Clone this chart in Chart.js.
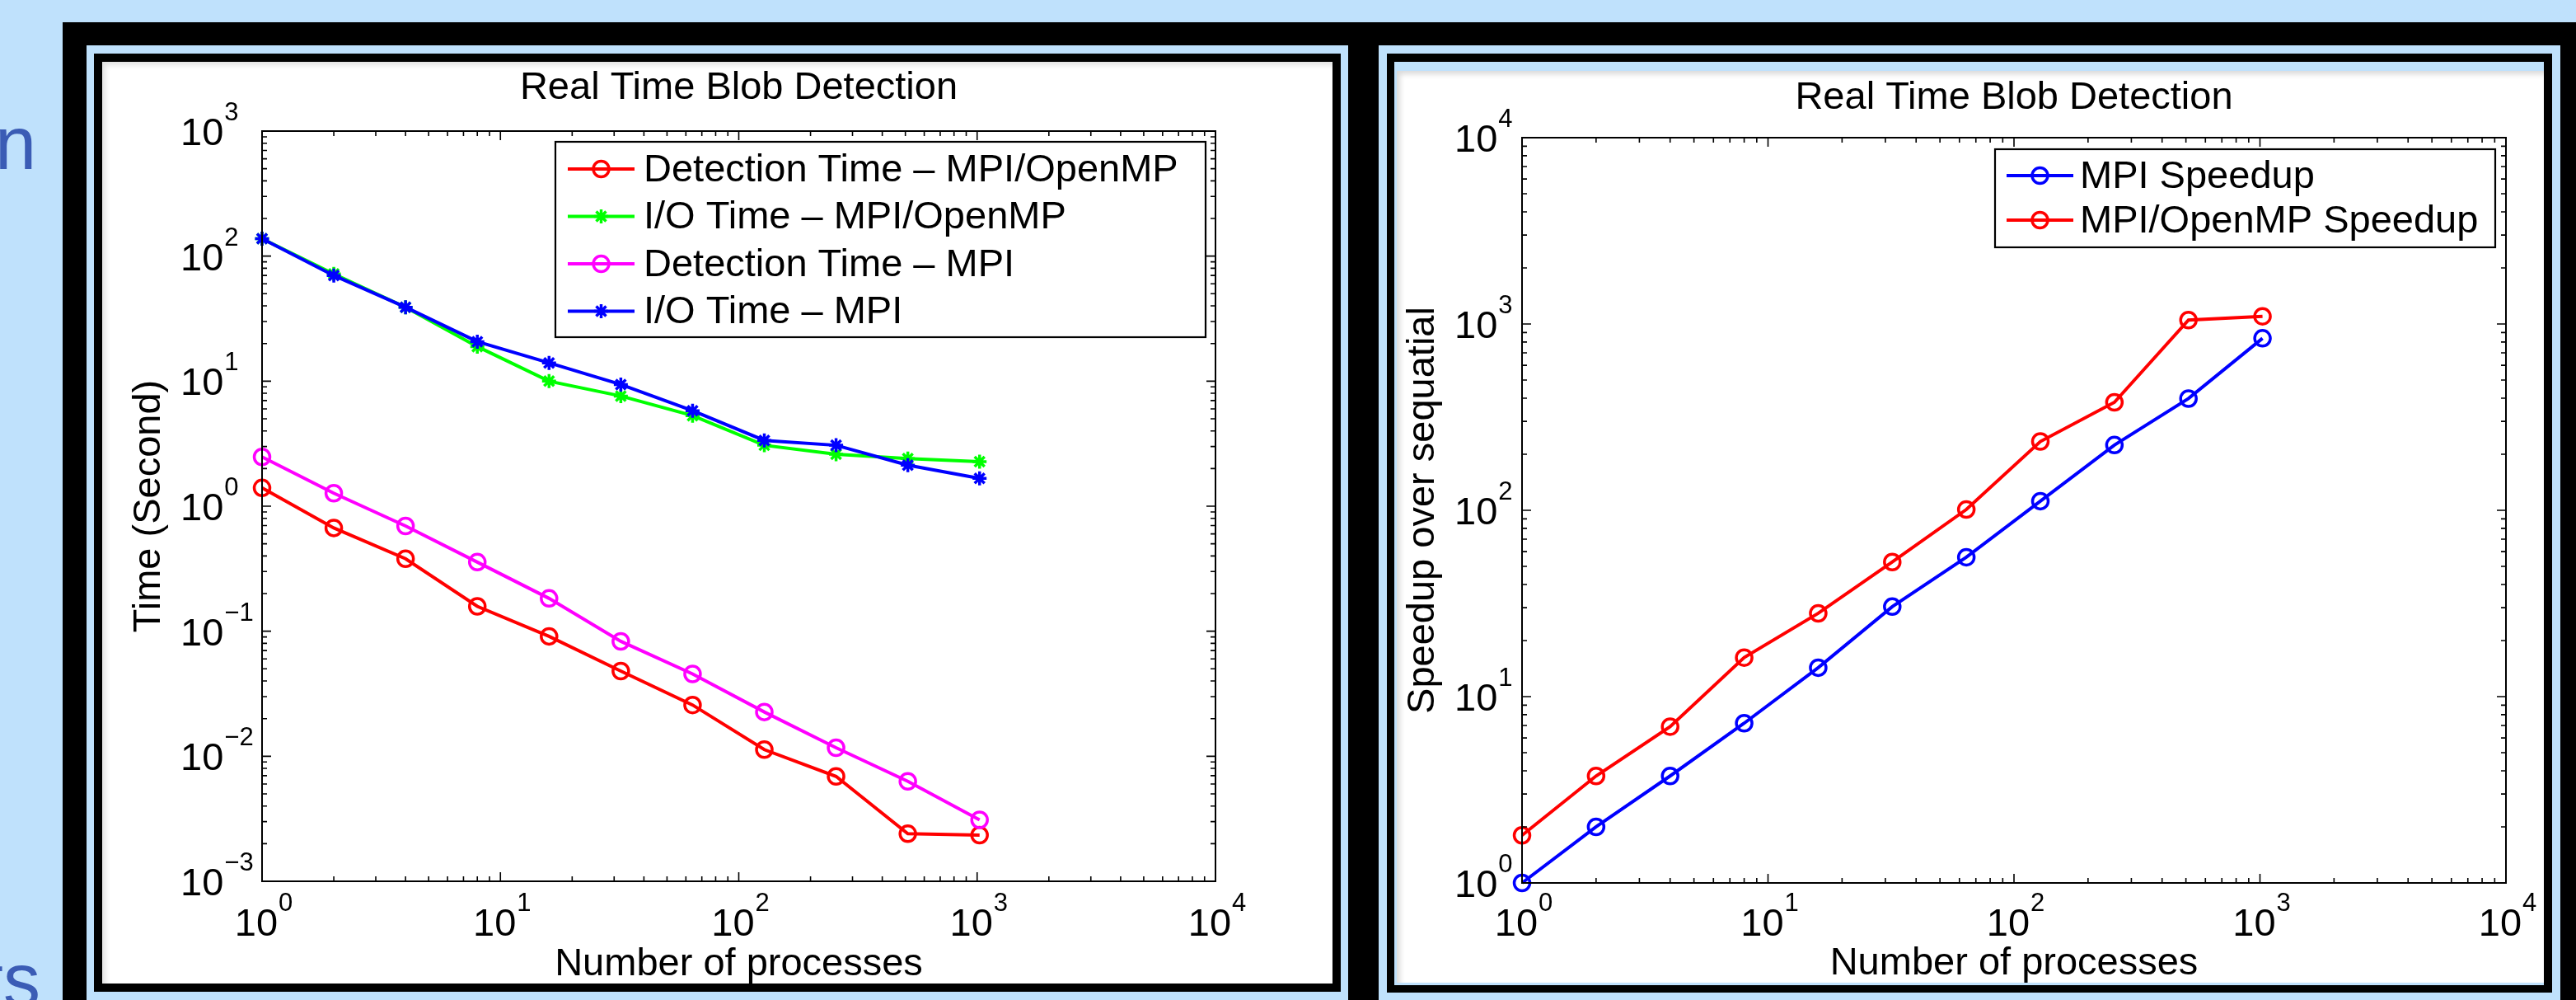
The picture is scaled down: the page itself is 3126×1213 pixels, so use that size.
<!DOCTYPE html>
<html><head><meta charset="utf-8">
<script src="https://cdn.jsdelivr.net/npm/chart.js@4.4.0/dist/chart.umd.min.js"></script>
<style>
html,body{margin:0;padding:0;}
body{width:3126px;height:1213px;overflow:hidden;background:#BFE1FC;position:relative;font-family:"Liberation Sans",Arial,sans-serif;}
.abs{position:absolute;}
.frag{position:absolute;color:#3B5CB5;font-size:90px;line-height:90px;white-space:nowrap;transform:translateX(-100%);}
</style></head>
<body>
<div class="frag" style="left:44px;top:129px;">n</div>
<div class="frag" style="left:49px;top:1144px;">ts</div>
<div class="abs" style="left:76px;top:27px;width:3100px;height:1250px;background:#000"></div>
<div class="abs" style="left:105px;top:55px;width:1531px;height:1250px;background:#BFE1FC"></div>
<div class="abs" style="left:114px;top:65px;width:1513px;height:1138px;background:#000"></div>
<div class="abs" style="left:124px;top:75px;width:1493px;height:1118px;background:#fff;box-shadow:inset 4px 4px 6px rgba(0,0,0,0.12)"></div>
<div class="abs" style="left:1673px;top:55px;width:1434px;height:1250px;background:#BFE1FC"></div>
<div class="abs" style="left:1683px;top:65px;width:1414px;height:1139px;background:#000"></div>
<div class="abs" style="left:1692px;top:75px;width:1395px;height:1120px;background:#BFE1FC"></div>
<div class="abs" style="left:1695px;top:86px;width:1392px;height:1106px;background:#fff;box-shadow:inset 4px 4px 6px rgba(0,0,0,0.15)"></div>
<canvas id="c1" class="abs" style="left:124px;top:75px" width="1493" height="1118"></canvas>
<canvas id="c2" class="abs" style="left:1695px;top:86px" width="1392" height="1106"></canvas>
<script>
// ---- data ----
const procs = [1, 2, 4, 8, 16, 32, 64, 128, 256, 512, 1024];
const detHybrid = [1.40, 0.67, 0.38, 0.158, 0.091, 0.048, 0.0257, 0.0113, 0.0069, 0.0024, 0.00234];
const ioHybrid = [138, 72, 39, 18.9, 10, 7.6, 5.3, 3.07, 2.6, 2.4, 2.27];
const detMPI = [2.48, 1.27, 0.695, 0.357, 0.183, 0.083, 0.0455, 0.0226, 0.0117, 0.0063, 0.0031];
const ioMPI = [138, 70, 39, 20.7, 14, 9.4, 5.8, 3.36, 3.07, 2.13, 1.67];
const speedupMPI = [1, 2, 3.75, 7.2, 14.3, 30.4, 56, 112, 224, 398, 838];
const speedupHybrid = [1.8, 3.75, 6.9, 16.2, 28, 52.8, 101, 234, 380, 1050, 1100];

const leftLabels = ['Detection Time \u2013 MPI/OpenMP', 'I/O Time \u2013 MPI/OpenMP', 'Detection Time \u2013 MPI', 'I/O Time \u2013 MPI'];
const rightLabels = ['MPI Speedup', 'MPI/OpenMP Speedup'];
const chartTitle = 'Real Time Blob Detection';
const xTitle = 'Number of processes';
const leftYTitle = 'Time (Second)';
const rightYTitle = 'Speedup over sequatial';
const xTickExps = [0, 1, 2, 3, 4];
const leftYTickExps = [-3, -2, -1, 0, 1, 2, 3];
const rightYTickExps = [0, 1, 2, 3, 4];

// ---- helpers ----
const FONT = '"Liberation Sans", Arial, Helvetica, sans-serif';
const f = s => `${s}px ${FONT}`;
const BIG = 47, SUP = 31;
const pts = arr => procs.map((p, i) => ({x: p, y: arr[i]}));

function ds(label, arr, color, style, order) {
  return {
    label, data: pts(arr), borderColor: color, backgroundColor: color,
    pointBorderColor: color, pointBackgroundColor: 'rgba(0,0,0,0)',
    borderWidth: 4, pointRadius: style === 'star' ? 8.5 : 9.5, pointBorderWidth: 3.5,
    pointStyle: style, clip: false, order, tension: 0
  };
}

function expStr(e) { return e < 0 ? '\u2212' + (-e) : String(e); }

function drawMarker(ctx, style, x, y, r, color) {
  ctx.save();
  ctx.strokeStyle = color; ctx.lineWidth = 3.5;
  ctx.beginPath();
  if (style === 'circle') {
    ctx.arc(x, y, r, 0, Math.PI * 2);
  } else {
    for (let k = 0; k < 4; k++) {
      const a = k * Math.PI / 4;
      ctx.moveTo(x - r * Math.cos(a), y - r * Math.sin(a));
      ctx.lineTo(x + r * Math.cos(a), y + r * Math.sin(a));
    }
  }
  ctx.stroke();
  ctx.restore();
}

const matlabPlugin = {
  id: 'matlab',
  afterDraw(chart) {
    const o = chart.options.plugins.matlab;
    const {ctx, chartArea: a} = chart;
    const xs = chart.scales.x, ys = chart.scales.y;
    ctx.save();
    ctx.strokeStyle = '#000'; ctx.lineWidth = 2;
    ctx.strokeRect(a.left, a.top, a.right - a.left, a.bottom - a.top);
    ctx.lineWidth = 1.6;
    const tickSet = (exps) => {
      const out = [];
      for (let i = 0; i < exps.length; i++) {
        const e = exps[i];
        for (let m = 1; m <= 9; m++) {
          if (i === exps.length - 1 && m > 1) break;
          out.push({v: m * Math.pow(10, e), major: m === 1});
        }
      }
      return out;
    };
    ctx.beginPath();
    for (const t of tickSet(o.xExps)) {
      const px = xs.getPixelForValue(t.v), len = t.major ? 11 : 6;
      ctx.moveTo(px, a.bottom); ctx.lineTo(px, a.bottom - len);
      ctx.moveTo(px, a.top); ctx.lineTo(px, a.top + len);
    }
    for (const t of tickSet(o.yExps)) {
      const py = ys.getPixelForValue(t.v), len = t.major ? 11 : 6;
      ctx.moveTo(a.left, py); ctx.lineTo(a.left + len, py);
      ctx.moveTo(a.right, py); ctx.lineTo(a.right - len, py);
    }
    ctx.stroke();
    ctx.fillStyle = '#000';
    ctx.textBaseline = 'alphabetic'; ctx.textAlign = 'left';
    for (const e of o.xExps) {
      const px = xs.getPixelForValue(Math.pow(10, e));
      ctx.font = f(BIG); const wb = ctx.measureText('10').width;
      ctx.font = f(SUP); const we = ctx.measureText(expStr(e)).width;
      const x0 = px - (wb + 1 + we) / 2 + 2;
      const by = a.bottom + o.xLabelDy;
      ctx.font = f(BIG); ctx.fillText('10', x0, by);
      ctx.font = f(SUP); ctx.fillText(expStr(e), x0 + wb + 1, by - 30);
    }
    for (const e of o.yExps) {
      const py = ys.getPixelForValue(Math.pow(10, e));
      const x0 = a.left - o.yLabelDx;
      ctx.font = f(BIG); const wb = ctx.measureText('10').width;
      ctx.fillText('10', x0, py + 17);
      ctx.font = f(SUP); ctx.fillText(expStr(e), x0 + wb + 1, py - 13);
    }
    const cx = (a.left + a.right) / 2;
    ctx.textAlign = 'center';
    ctx.font = f(BIG);
    ctx.fillText(o.title, cx, a.top + o.titleDy);
    ctx.fillText(o.xTitle, cx, a.bottom + o.xTitleDy);
    ctx.save();
    ctx.translate(a.left - o.yTitleDx, (a.top + a.bottom) / 2 + o.yTitleDy);
    ctx.rotate(-Math.PI / 2);
    ctx.textBaseline = 'middle';
    ctx.fillText(o.yTitle, 0, 0);
    ctx.restore();
    const L = o.legend;
    ctx.fillStyle = '#fff';
    ctx.fillRect(L.x0, L.y0, L.x1 - L.x0, L.y1 - L.y0);
    ctx.strokeStyle = '#000'; ctx.lineWidth = 2.2;
    ctx.strokeRect(L.x0, L.y0, L.x1 - L.x0, L.y1 - L.y0);
    const dsets = chart.data.datasets;
    ctx.textAlign = 'left'; ctx.textBaseline = 'middle'; ctx.font = f(BIG);
    dsets.forEach((d, i) => {
      const ry = L.row0 + i * L.rowStep;
      ctx.strokeStyle = d.borderColor; ctx.lineWidth = 4;
      ctx.beginPath(); ctx.moveTo(L.lineX0, ry); ctx.lineTo(L.lineX1, ry); ctx.stroke();
      drawMarker(ctx, d.pointStyle, (L.lineX0 + L.lineX1) / 2, ry, d.pointRadius, d.borderColor);
      ctx.fillStyle = '#000';
      ctx.fillText(d.label, L.textX, ry + 2);
    });
    ctx.restore();
  }
};

function makeChart(id, datasets, yMin, yMax, pad, m) {
  return new Chart(document.getElementById(id), {
    type: 'line',
    data: {datasets},
    options: {
      responsive: false, animation: false, devicePixelRatio: 1,
      layout: {padding: pad},
      scales: {
        x: {type: 'logarithmic', min: 1, max: 10000, display: false},
        y: {type: 'logarithmic', min: yMin, max: yMax, display: false}
      },
      plugins: {legend: {display: false}, tooltip: {enabled: false}, title: {display: false}, matlab: m}
    },
    plugins: [matlabPlugin]
  });
}

makeChart('c1', [
  ds(leftLabels[0], detHybrid, '#FF0000', 'circle', 3),
  ds(leftLabels[1], ioHybrid, '#00FF00', 'star', 2),
  ds(leftLabels[2], detMPI, '#FF00FF', 'circle', 1),
  ds(leftLabels[3], ioMPI, '#0000FF', 'star', 0)
], 0.001, 1000, {left: 194, top: 84, right: 142, bottom: 124}, {
  title: chartTitle, xTitle: xTitle, yTitle: leftYTitle,
  xExps: xTickExps, yExps: leftYTickExps,
  xLabelDy: 66, yLabelDx: 99, titleDy: -39, xTitleDy: 114, yTitleDx: 137, yTitleDy: 0,
  legend: {x0: 550, y0: 97, x1: 1339, y1: 334, row0: 130, rowStep: 57.5, lineX0: 565, lineX1: 646, textX: 657}
});

makeChart('c2', [
  ds(rightLabels[0], speedupMPI, '#0000FF', 'circle', 1),
  ds(rightLabels[1], speedupHybrid, '#FF0000', 'circle', 0)
], 1, 10000, {left: 152, top: 81, right: 46, bottom: 121}, {
  title: chartTitle, xTitle: xTitle, yTitle: rightYTitle,
  xExps: xTickExps, yExps: rightYTickExps,
  xLabelDy: 64, yLabelDx: 82, titleDy: -35, xTitleDy: 111, yTitleDx: 120, yTitleDy: 0,
  legend: {x0: 726, y0: 95, x1: 1333, y1: 214, row0: 127, rowStep: 54, lineX0: 740, lineX1: 821, textX: 829}
});
</script>
</body></html>
